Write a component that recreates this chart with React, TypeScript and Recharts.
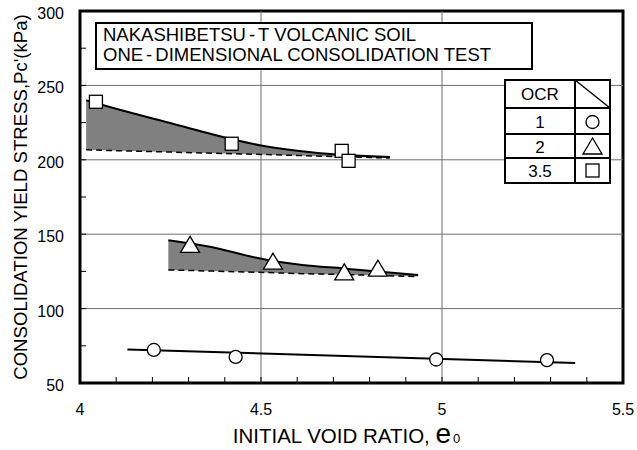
import React from "react";
import {
  Area,
  ComposedChart,
  Line,
  ReferenceArea,
  ReferenceLine,
  Scatter,
  XAxis,
  YAxis,
} from "recharts";

// axis ticks
const xTicks = [4, 4.1, 4.2, 4.3, 4.4, 4.5, 4.6, 4.7, 4.8, 4.9, 5, 5.1, 5.2, 5.3, 5.4, 5.5];
const xMajor = [4, 4.5, 5, 5.5];
const yTicks = [50, 75, 100, 125, 150, 175, 200, 225, 250, 275, 300];
const yMajor = [50, 100, 150, 200, 250, 300];

// OCR = 1 (circles)
const ocr1Points = [
  { e: 4.204, pc: 72.2 },
  { e: 4.43, pc: 67.5 },
  { e: 4.984, pc: 65.8 },
  { e: 5.29, pc: 65.4 },
];
const ocr1Fit = [
  { e: 4.131, pc: 72.5 },
  { e: 5.368, pc: 63.5 },
];

// OCR = 2 (triangles)
const ocr2Points = [
  { e: 4.304, pc: 142.5 },
  { e: 4.533, pc: 131.2 },
  { e: 4.73, pc: 124 },
  { e: 4.823, pc: 126.5 },
];
const ocr2Band = [
  { e: 4.244, upper: 146, lower: 126 },
  { e: 4.366, upper: 141.3, lower: 125.2 },
  { e: 4.494, upper: 133.8, lower: 124.4 },
  { e: 4.614, upper: 129.3, lower: 123.5 },
  { e: 4.726, upper: 127, lower: 122.9 },
  { e: 4.934, upper: 122.6, lower: 121.5 },
];

// OCR = 3.5 (squares)
const ocr35Points = [
  { e: 4.044, pc: 239 },
  { e: 4.419, pc: 210.8 },
  { e: 4.723, pc: 206 },
  { e: 4.742, pc: 199.3 },
];
const ocr35Band = [
  { e: 4.017, upper: 240, lower: 206.7 },
  { e: 4.092, upper: 234.8, lower: 206.2 },
  { e: 4.249, upper: 224.7, lower: 205.2 },
  { e: 4.419, upper: 213.9, lower: 204.1 },
  { e: 4.5, upper: 209.6, lower: 203.6 },
  { e: 4.644, upper: 204.9, lower: 202.6 },
  { e: 4.856, upper: 201.8, lower: 201.2 },
];

const FONT = "'Liberation Sans', Arial, sans-serif";
const gridColor = "#6e6e6e";

const XTick = (props: any) => {
  const { x, y, payload } = props;
  const major = xMajor.includes(payload.value);
  return (
    <g>
      <line x1={x} y1={y} x2={x} y2={y - 6} stroke="#000" strokeWidth={1} />
      {major && (
        <text x={x} y={y + 32} textAnchor="middle" fontSize={16} fontFamily={FONT} fill="#000">
          {payload.value}
        </text>
      )}
    </g>
  );
};

const YTick = (props: any) => {
  const { x, y, payload } = props;
  const major = yMajor.includes(payload.value);
  return (
    <g>
      <line x1={x} y1={y} x2={x + 6} y2={y} stroke="#000" strokeWidth={1} />
      {major && (
        <text x={x - 16} y={y + 8} textAnchor="end" fontSize={16} fontFamily={FONT} fill="#000">
          {payload.value}
        </text>
      )}
    </g>
  );
};

const Circle = (p: any) => (
  <circle cx={p.cx} cy={p.cy} r={6.5} fill="#fff" stroke="#000" strokeWidth={1.3} />
);
const Triangle = (p: any) => (
  <polygon
    points={`${p.cx},${p.cy - 9} ${p.cx - 9.5},${p.cy + 7} ${p.cx + 9.5},${p.cy + 7}`}
    fill="#fff"
    stroke="#000"
    strokeWidth={1.3}
  />
);
const Square = (p: any) => (
  <rect x={p.cx - 6.5} y={p.cy - 6.5} width={13} height={13} fill="#fff" stroke="#000" strokeWidth={1.3} />
);

const XLabel = (props: any) => {
  const vb = props.viewBox;
  const cx = vb.x + vb.width / 2;
  return (
    <text x={cx - 5} y={vb.y + 60} textAnchor="middle" fontFamily={FONT} fill="#000">
      <tspan fontSize={20.5}>INITIAL VOID RATIO, </tspan>
      <tspan fontSize={28}>e</tspan>
      <tspan fontSize={13} dx={2}>0</tspan>
    </text>
  );
};

const YLabel = (props: any) => {
  const vb = props.viewBox;
  const cy = vb.y + vb.height / 2;
  return (
    <text
      x={20}
      y={cy}
      transform={`rotate(-90, 20, ${cy})`}
      textAnchor="middle"
      dominantBaseline="central"
      fontSize={18.6}
      fontFamily={FONT}
      fill="#000"
    >
      CONSOLIDATION YIELD STRESS,Pc'(kPa)
    </text>
  );
};

function LegendTable() {
  return (
    <svg
      width={108}
      height={106}
      style={{ position: "absolute", left: 504, top: 79 }}
      fontFamily={FONT}
      fontSize={17}
    >
      <rect x={1} y={1} width={105} height={103} fill="#fff" stroke="#000" strokeWidth={2} />
      <line x1={1} y1={29} x2={106} y2={29} stroke="#000" strokeWidth={2} />
      <line x1={1} y1={55} x2={106} y2={55} stroke="#000" strokeWidth={2} />
      <line x1={1} y1={79} x2={106} y2={79} stroke="#000" strokeWidth={2} />
      <line x1={71} y1={1} x2={71} y2={104} stroke="#000" strokeWidth={2} />
      <line x1={71} y1={1} x2={106} y2={29} stroke="#000" strokeWidth={1.5} />
      <text x={36} y={21} textAnchor="middle">OCR</text>
      <text x={36} y={49} textAnchor="middle">1</text>
      <text x={36} y={74} textAnchor="middle">2</text>
      <text x={36} y={98} textAnchor="middle">3.5</text>
      <Circle cx={88.5} cy={43} />
      <Triangle cx={88.5} cy={68} />
      <Square cx={88.5} cy={91.5} />
    </svg>
  );
}

function TitleBox() {
  const hy = { margin: "0 3px" };
  return (
    <div
      style={{
        position: "absolute",
        left: 95,
        top: 22,
        width: 428,
        height: 43,
        border: "2px solid #000",
        background: "#fff",
        fontFamily: FONT,
        fontSize: 18.5,
        lineHeight: "20px",
        padding: "1px 0 0 6px",
        color: "#000",
        whiteSpace: "nowrap",
      }}
    >
      <div>
        NAKASHIBETSU<span style={hy}>-</span>T VOLCANIC SOIL
      </div>
      <div>
        ONE<span style={hy}>-</span>DIMENSIONAL CONSOLIDATION TEST
      </div>
    </div>
  );
}

export default function App() {
  return (
    <div style={{ position: "relative", width: 637, height: 450, background: "#fff" }}>
      <style>{`body{margin:0}`}</style>
      <ComposedChart width={637} height={450} margin={{ top: 11, right: 14, bottom: 0, left: 0 }}>
        <XAxis
          dataKey="e"
          type="number"
          domain={[4, 5.5]}
          ticks={xTicks}
          interval={0}
          allowDataOverflow
          axisLine={false}
          tickLine={false}
          tickSize={0}
          tickMargin={0}
          tick={<XTick />}
          height={67}
          label={<XLabel />}
        />
        <YAxis
          type="number"
          domain={[50, 300]}
          ticks={yTicks}
          interval={0}
          allowDataOverflow
          axisLine={false}
          tickLine={false}
          tickSize={0}
          tickMargin={0}
          tick={<YTick />}
          width={80}
          label={<YLabel />}
        />
        {xMajor.slice(1, -1).map((v) => (
          <ReferenceLine key={"x" + v} x={v} stroke={gridColor} strokeWidth={1} />
        ))}
        {yMajor.slice(1, -1).map((v) => (
          <ReferenceLine key={"y" + v} y={v} stroke={gridColor} strokeWidth={1} />
        ))}

        <Area
          data={ocr35Band}
          dataKey={(d: any) => [d.lower, d.upper]}
          type="monotone"
          fill="#808080"
          fillOpacity={1}
          stroke="none"
          isAnimationActive={false}
        />
        <Area
          data={ocr2Band}
          dataKey={(d: any) => [d.lower, d.upper]}
          type="monotone"
          fill="#808080"
          fillOpacity={1}
          stroke="none"
          isAnimationActive={false}
        />
        <Line data={ocr35Band} dataKey="lower" type="linear" stroke="#000" strokeWidth={1.5} strokeDasharray="6 4" dot={false} isAnimationActive={false} />
        <Line data={ocr2Band} dataKey="lower" type="linear" stroke="#000" strokeWidth={1.5} strokeDasharray="6 4" dot={false} isAnimationActive={false} />
        <Line data={ocr35Band} dataKey="upper" type="monotone" stroke="#000" strokeWidth={2} dot={false} isAnimationActive={false} />
        <Line data={ocr2Band} dataKey="upper" type="monotone" stroke="#000" strokeWidth={2} dot={false} isAnimationActive={false} />
        <Line data={ocr1Fit} dataKey="pc" type="linear" stroke="#000" strokeWidth={2} dot={false} isAnimationActive={false} />

        <Scatter data={ocr1Points} dataKey="pc" shape={Circle} isAnimationActive={false} />
        <Scatter data={ocr2Points} dataKey="pc" shape={Triangle} isAnimationActive={false} />
        <Scatter data={ocr35Points} dataKey="pc" shape={Square} isAnimationActive={false} />

        <ReferenceArea x1={4} x2={5.5} y1={50} y2={300} fill="none" stroke="#000" strokeWidth={3} />
      </ComposedChart>
      <TitleBox />
      <LegendTable />
    </div>
  );
}
